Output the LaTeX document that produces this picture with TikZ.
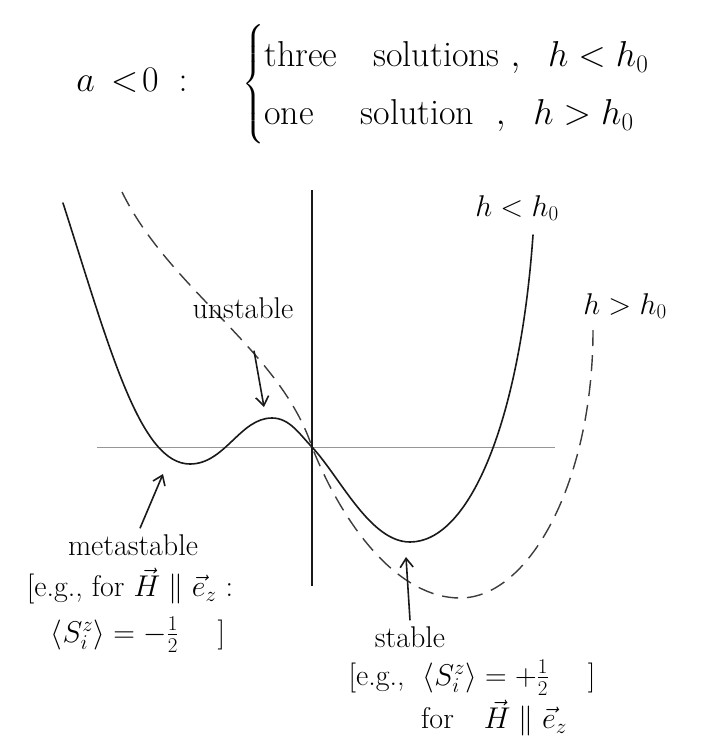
\RequirePackage{fix-cm}
\documentclass[tikz,border=0pt]{standalone}
\usepackage{amsmath}
\usetikzlibrary{arrows.meta, positioning}
\definecolor{ink}{RGB}{25, 25, 25}
\definecolor{axisgray}{RGB}{150, 150, 150}
\tikzset{
	solidcurve/.style={line width=1.6pt, draw=ink, line cap=round, line join=round},
	dashcurve/.style={line width=1.4pt, draw=ink!85, dash pattern=on 16pt off 9pt},
	yaxis/.style={line width=1.1pt, draw=ink},
	xaxis/.style={line width=0.9pt, draw=axisgray},
	handtext/.style={font=\fontsize{30}{36}\selectfont, inner sep=0pt, align=center},
	bigtext/.style={font=\fontsize{36}{58}\selectfont, inner sep=0pt},
	pointer/.style={-{Straight Barb[length=9pt, width=13pt]}, line width=1.6pt, draw=ink},
}

\begin{document}
\begin{tikzpicture}[x=1pt, y=-1pt, node distance=12pt]
		\useasboundingbox (0,0) rectangle (717,742);
		% heading
		\node[bigtext] (cond) at (132,80) {$a \,<\! 0 \;:$};
		\node[bigtext, anchor=west] (cases) at (242,84) {$\left\{\begin{array}{@{}l@{}}
			\text{three\quad solutions}\ ,\ \ h<h_0\\
			\text{one\quad\ solution}\ \ ,\ \ h>h_0
			\end{array}\right.$};
		% axes
		\draw[xaxis] (97,447) -- (555,447);
		\draw[yaxis] (312,190) -- (312,586);
		% h<h0
		\draw[solidcurve] (63,203) .. controls (110,350) and (140,464) .. (190,464)
			.. controls (225,464) and (240,418) .. (272,418)
			.. controls (290,418) and (300,435) .. (312,447)
			.. controls (340,477) and (370,542) .. (410,542)
			.. controls (470,542) and (520,420) .. (533,235);
		% h>h0
		\draw[dashcurve] (122,192) .. controls (170,290) and (280,350) .. (312,447)
			.. controls (345,530) and (400,598) .. (460,598)
			.. controls (530,598) and (593,480) .. (593,330);
		% curve labels
		\node[handtext] (hlow) at (517,208) {$h<h_0$};
		\node[handtext] (hhigh) at (625,306) {$h>h_0$};
		\node[handtext] (unst) at (243,308) {unstable};
		\coordinate (peak) at (264,407);
		\draw[pointer] ([xshift=11pt, yshift=-32pt]unst.south) -- (peak);
		% metastable
		\node[handtext] (meta) at (133,545) {metastable};
		\node[handtext, below=of meta, xshift=-3pt] (metaeg) {[e.g., for $\vec{H}\parallel\vec{e}_z$ :};
		\node[handtext, below=of metaeg, xshift=8pt] (metaval) {$\langle S_i^z\rangle = -\frac{1}{2}$\quad\ ]};
		\coordinate (metamin) at (163,474);
		\draw[pointer] ([xshift=7pt, yshift=6pt]meta.north) -- (metamin);
		% stable
		\node[handtext] (stable) at (410,637) {stable};
		\node[handtext, below=of stable, xshift=62pt] (stableeg) {[e.g.,\ \ $\langle S_i^z\rangle = +\frac{1}{2}$\quad\ ]};
		\node[handtext, below=4pt of stableeg, xshift=22pt] (stablefor) {for\quad $\vec{H}\parallel\vec{e}_z$};
		\coordinate (stablemin) at (406,557);
		\draw[pointer] ([yshift=6pt]stable.north) -- (stablemin);
	\end{tikzpicture}
\end{document}
